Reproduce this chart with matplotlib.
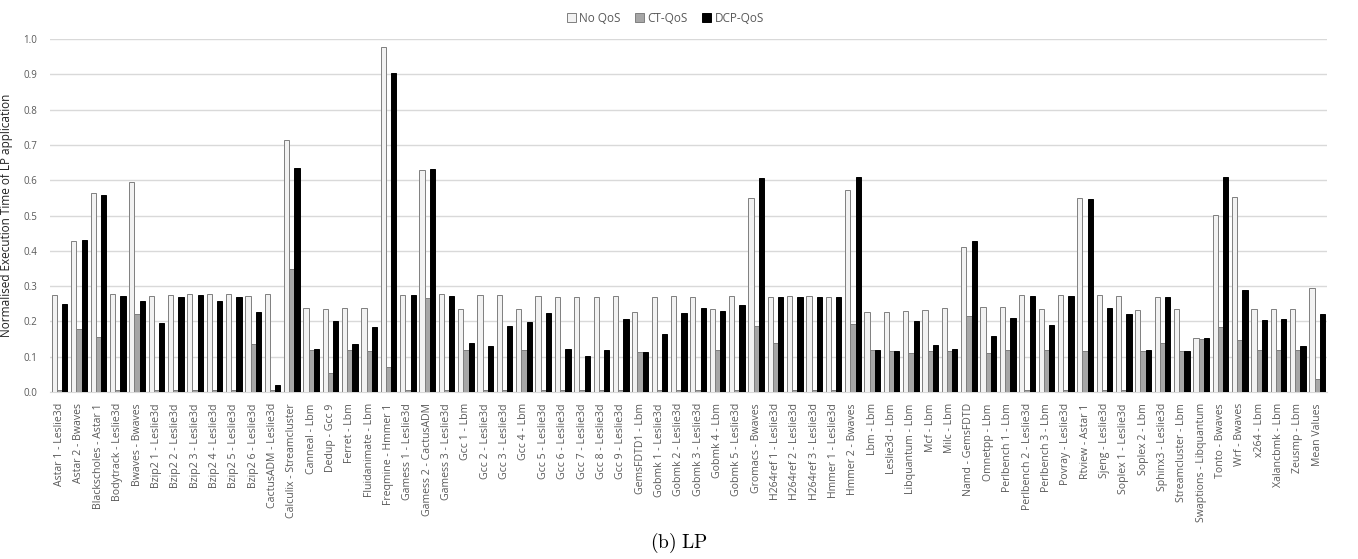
import numpy as np
import matplotlib
matplotlib.use("Agg")
import matplotlib.pyplot as plt

plt.rcParams["font.family"] = ["Open Sans", "DejaVu Sans"]

pairs = [
    "Astar 1 - Leslie3d", "Astar 2 - Bwaves", "Blackscholes - Astar 1", "Bodytrack - Leslie3d",
    "Bwaves - Bwaves", "Bzip2 1 - Leslie3d", "Bzip2 2 - Leslie3d", "Bzip2 3 - Leslie3d",
    "Bzip2 4 - Leslie3d", "Bzip2 5 - Leslie3d", "Bzip2 6 - Leslie3d", "CactusADM - Leslie3d",
    "Calculix - Streamcluster", "Canneal - Lbm", "Dedup - Gcc 9", "Ferret - Lbm",
    "Fluidanimate - Lbm", "Freqmine - Hmmer 1", "Gamess 1 - Leslie3d", "Gamess 2 - CactusADM",
    "Gamess 3 - Leslie3d", "Gcc 1 - Lbm", "Gcc 2 - Leslie3d", "Gcc 3 - Leslie3d",
    "Gcc 4 - Lbm", "Gcc 5 - Leslie3d", "Gcc 6 - Leslie3d", "Gcc 7 - Leslie3d",
    "Gcc 8 - Leslie3d", "Gcc 9 - Leslie3d", "GemsFDTD1 - Lbm", "Gobmk 1 - Leslie3d",
    "Gobmk 2 - Leslie3d", "Gobmk 3 - Leslie3d", "Gobmk 4 - Lbm", "Gobmk 5 - Leslie3d",
    "Gromacs - Bwaves", "H264ref 1 - Leslie3d", "H264ref 2 - Leslie3d", "H264ref 3 - Leslie3d",
    "Hmmer 1 - Leslie3d", "Hmmer 2 - Bwaves", "Lbm - Lbm", "Leslie3d - Lbm",
    "Libquantum - Lbm", "Mcf - Lbm", "Milc - Lbm", "Namd - GemsFDTD",
    "Omnetpp - Lbm", "Perlbench 1 - Lbm", "Perlbench 2 - Leslie3d", "Perlbench 3 - Lbm",
    "Povray - Leslie3d", "Rtview - Astar 1", "Sjeng - Leslie3d", "Soplex 1 - Leslie3d",
    "Soplex 2 - Lbm", "Sphinx3 - Leslie3d", "Streamcluster - Lbm", "Swaptions - Libquantum",
    "Tonto - Bwaves", "Wrf - Bwaves", "x264 - Lbm", "Xalancbmk - Lbm",
    "Zeusmp - Lbm", "Mean Values",
]

no_qos = [
    0.275, 0.428, 0.563, 0.279, 0.594, 0.271, 0.276, 0.277, 0.277, 0.277, 0.273, 0.277,
    0.714, 0.238, 0.234, 0.238, 0.237, 0.977, 0.276, 0.628, 0.277, 0.235, 0.275, 0.275,
    0.234, 0.273, 0.270, 0.269, 0.270, 0.272, 0.227, 0.269, 0.273, 0.270, 0.234, 0.273,
    0.551, 0.270, 0.272, 0.272, 0.270, 0.572, 0.226, 0.226, 0.230, 0.232, 0.237, 0.411,
    0.240, 0.240, 0.275, 0.235, 0.276, 0.551, 0.275, 0.271, 0.231, 0.269, 0.234, 0.152,
    0.501, 0.553, 0.234, 0.234, 0.235, 0.295,
]

ct_qos = [
    0.005, 0.178, 0.156, 0.005, 0.221, 0.005, 0.005, 0.005, 0.005, 0.005, 0.137, 0.005,
    0.349, 0.118, 0.053, 0.118, 0.117, 0.071, 0.005, 0.266, 0.005, 0.118, 0.005, 0.005,
    0.118, 0.005, 0.005, 0.005, 0.005, 0.005, 0.113, 0.005, 0.005, 0.005, 0.118, 0.005,
    0.186, 0.140, 0.005, 0.005, 0.005, 0.192, 0.120, 0.115, 0.110, 0.117, 0.117, 0.216,
    0.110, 0.120, 0.005, 0.120, 0.005, 0.115, 0.005, 0.005, 0.117, 0.140, 0.117, 0.150,
    0.184, 0.147, 0.120, 0.120, 0.120, 0.036,
]

dcp_qos = [
    0.248, 0.432, 0.557, 0.273, 0.258, 0.195, 0.268, 0.274, 0.257, 0.269, 0.228, 0.019,
    0.636, 0.123, 0.201, 0.137, 0.183, 0.903, 0.276, 0.633, 0.273, 0.140, 0.131, 0.188,
    0.198, 0.224, 0.123, 0.102, 0.120, 0.207, 0.114, 0.165, 0.224, 0.239, 0.230, 0.247,
    0.607, 0.270, 0.270, 0.270, 0.270, 0.609, 0.120, 0.115, 0.200, 0.132, 0.122, 0.429,
    0.159, 0.209, 0.272, 0.190, 0.273, 0.547, 0.239, 0.220, 0.120, 0.269, 0.117, 0.153,
    0.609, 0.288, 0.204, 0.207, 0.130, 0.220,
]

fig = plt.figure(figsize=(13.58, 5.59), dpi=100)
ax = fig.add_axes([0.0368, 0.2987, 0.9403, 0.6315])

x = np.arange(len(pairs))
w = 0.27
ax.bar(x - w, no_qos, w, color="#f2f2f2", edgecolor="#7f7f7f", linewidth=0.7, label="No QoS", zorder=3)
ax.bar(x, ct_qos, w, color="#a6a6a6", edgecolor="#7f7f7f", linewidth=0.7, label="CT-QoS", zorder=3)
ax.bar(x + w, dcp_qos, w, color="#000000", edgecolor="#000000", linewidth=0.7, label="DCP-QoS", zorder=3)

ax.set_xlim(-0.5, len(pairs) - 0.5)
ax.set_ylim(0, 1.0)
ax.set_yticks(np.arange(0, 1.01, 0.1))
ax.set_yticklabels([f"{v:.1f}" for v in np.arange(0, 1.01, 0.1)])
ax.set_xticks(x)
ax.set_xticklabels(pairs, rotation=90, fontsize=7.6)
ax.tick_params(axis="both", length=0, colors="#595959")
ax.tick_params(axis="y", labelsize=7, pad=9)
ax.tick_params(axis="x", pad=8)
ax.grid(axis="y", color="#d9d9d9", linewidth=1.0, zorder=0)
for s in ["top", "right", "left"]:
    ax.spines[s].set_visible(False)
ax.spines["bottom"].set_color("#d9d9d9")

ax.set_ylabel("Normalised Execution Time of LP application", fontsize=8.5, color="#222222")
ax.yaxis.set_label_coords(-0.029, 0.5)

fig.legend(loc="upper center", bbox_to_anchor=(0.49, 0.998), ncol=3, frameon=False,
           fontsize=8.5, handlelength=0.75, handleheight=0.75, columnspacing=1.2,
           handletextpad=0.3, labelcolor="#595959")

plt.rcParams["mathtext.fontset"] = "cm"
fig.text(0.5, 0.028, r"$\mathrm{(b)\ LP}$", ha="center", va="center", fontsize=14)

fig.savefig("out.png", dpi=100)
